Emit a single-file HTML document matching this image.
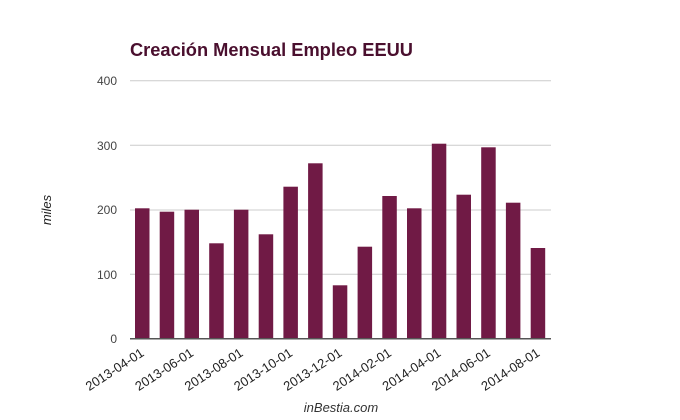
<!DOCTYPE html>
<html><head><meta charset="utf-8"><style>body{margin:0;background:#fff}svg{display:block}</style></head>
<body>
<svg width="680" height="420" xmlns="http://www.w3.org/2000/svg" font-family="Liberation Sans, Arial, sans-serif">
<rect width="680" height="420" fill="#fff"/>
<text x="130" y="56" font-size="18" font-weight="bold" fill="#4a0f2e" textLength="283" lengthAdjust="spacingAndGlyphs">Creación Mensual Empleo EEUU</text>
<g stroke="#ccc" stroke-width="1">
<line x1="130" x2="551" y1="80.7" y2="80.7"/>
<line x1="130" x2="551" y1="145.3" y2="145.3"/>
<line x1="130" x2="551" y1="210" y2="210"/>
<line x1="130" x2="551" y1="274.3" y2="274.3"/>
</g>
<g font-size="12" fill="#444" text-anchor="end">
<text x="117" y="85">400</text>
<text x="117" y="150">300</text>
<text x="117" y="214">200</text>
<text x="117" y="279">100</text>
<text x="117" y="343">0</text>
</g>
<text transform="translate(51,210) rotate(-90)" text-anchor="middle" font-size="13" font-style="italic" fill="#222">miles</text>
<g fill="#701a45">
<rect x="135" y="208.3" width="14.5" height="130.4"/>
<rect x="159.7" y="211.7" width="14.5" height="127"/>
<rect x="184.5" y="209.7" width="14.5" height="129"/>
<rect x="209.2" y="243.3" width="14.5" height="95.4"/>
<rect x="233.9" y="209.7" width="14.5" height="129"/>
<rect x="258.7" y="234.3" width="14.5" height="104.4"/>
<rect x="283.4" y="186.7" width="14.5" height="152"/>
<rect x="308.1" y="163.3" width="14.5" height="175.4"/>
<rect x="332.8" y="285.3" width="14.5" height="53.4"/>
<rect x="357.6" y="246.7" width="14.5" height="92"/>
<rect x="382.3" y="196" width="14.5" height="142.7"/>
<rect x="407" y="208.3" width="14.5" height="130.4"/>
<rect x="431.8" y="143.7" width="14.5" height="195"/>
<rect x="456.5" y="194.7" width="14.5" height="144"/>
<rect x="481.2" y="147.3" width="14.5" height="191.4"/>
<rect x="505.9" y="202.7" width="14.5" height="136"/>
<rect x="530.7" y="248" width="14.5" height="90.7"/>
</g>
<line x1="130" x2="551" y1="338.7" y2="338.7" stroke="#555" stroke-width="1.5"/>
<g font-size="13" fill="#222" text-anchor="end">
<text transform="translate(145,355) rotate(-33)">2013-04-01</text>
<text transform="translate(194.5,355) rotate(-33)">2013-06-01</text>
<text transform="translate(244,355) rotate(-33)">2013-08-01</text>
<text transform="translate(293.4,355) rotate(-33)">2013-10-01</text>
<text transform="translate(342.9,355) rotate(-33)">2013-12-01</text>
<text transform="translate(392.3,355) rotate(-33)">2014-02-01</text>
<text transform="translate(441.8,355) rotate(-33)">2014-04-01</text>
<text transform="translate(491.2,355) rotate(-33)">2014-06-01</text>
<text transform="translate(540.7,355) rotate(-33)">2014-08-01</text>
</g>
<text x="341" y="412" text-anchor="middle" font-size="13" font-style="italic" fill="#333">inBestia.com</text>
</svg>
</body></html>
